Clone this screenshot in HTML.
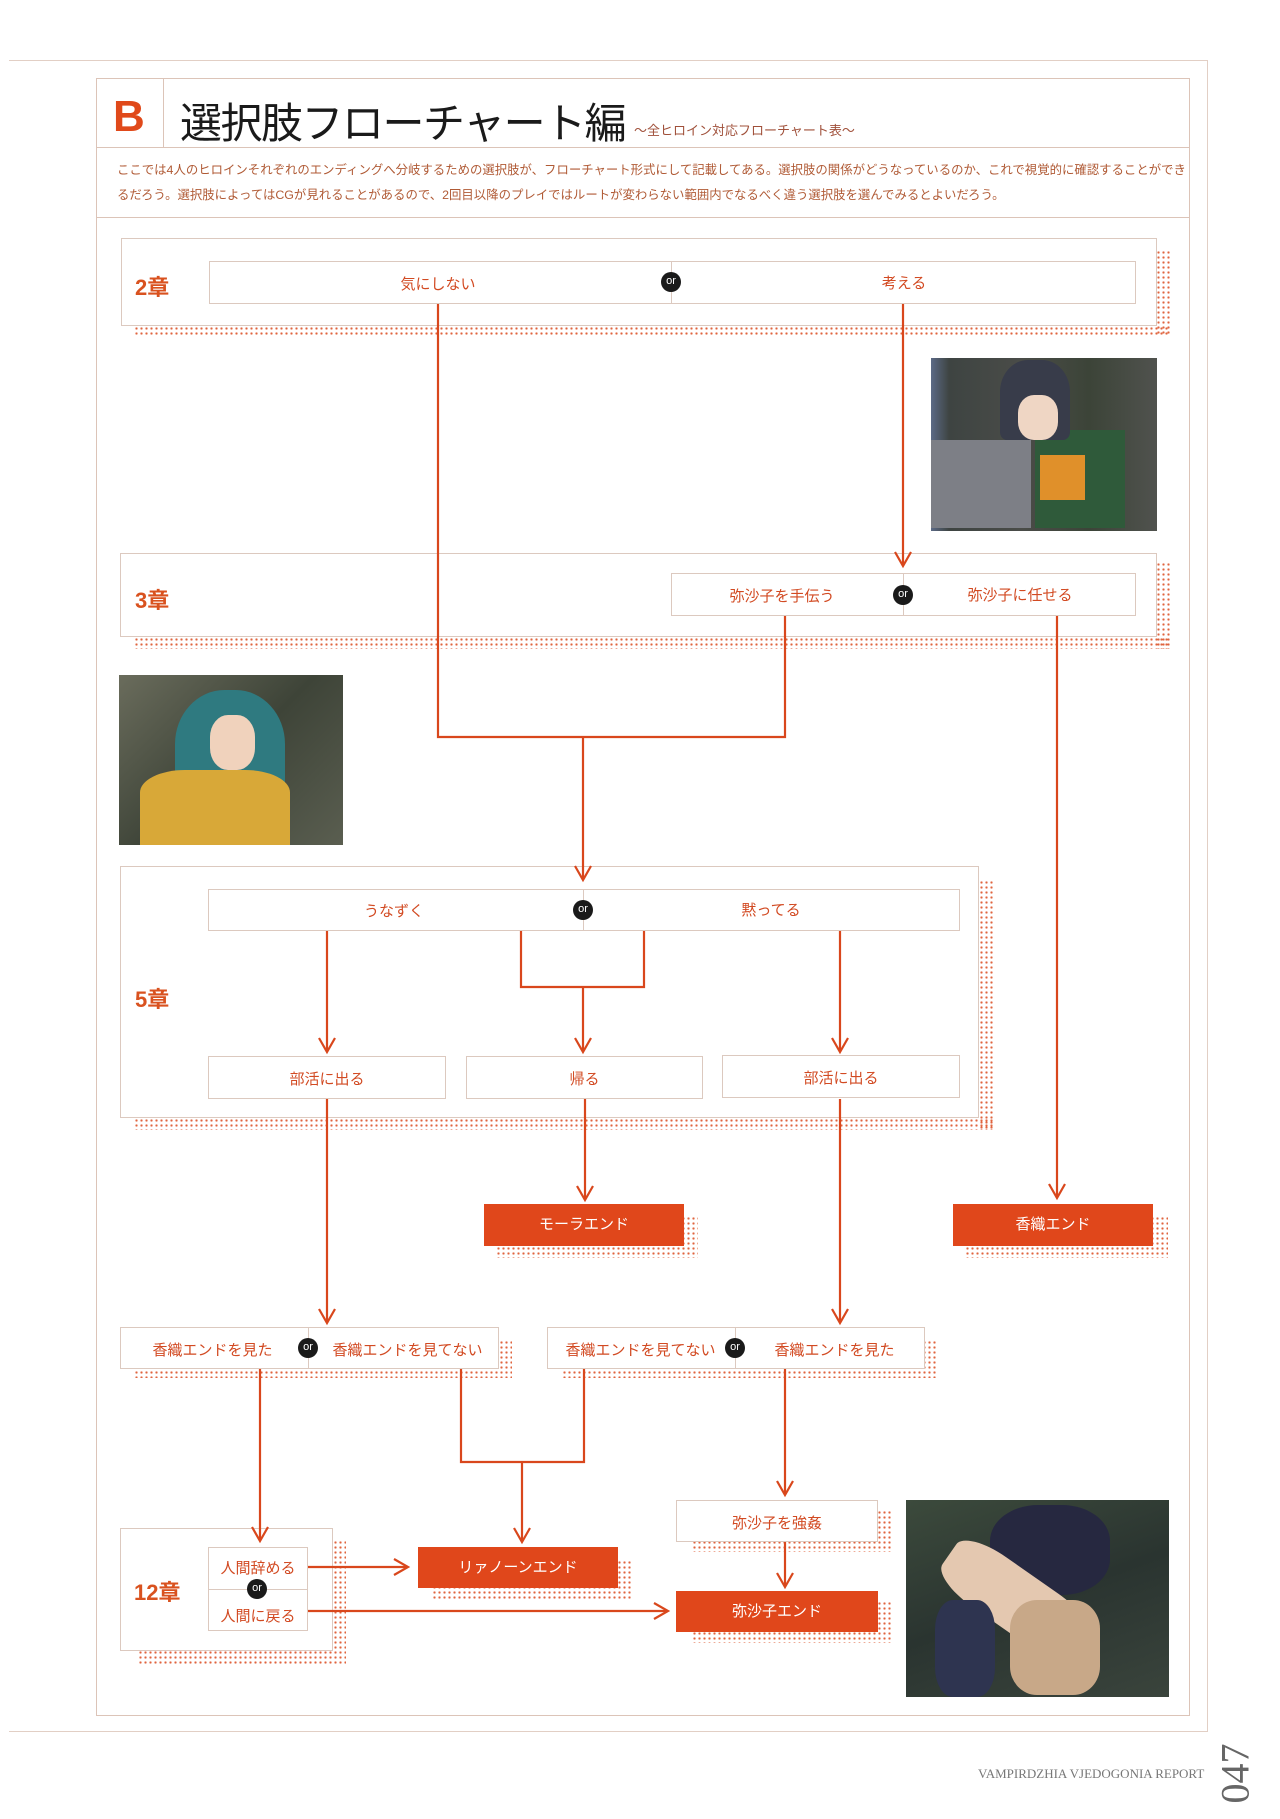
<!DOCTYPE html>
<html><head><meta charset="utf-8"><style>
*{margin:0;padding:0;box-sizing:border-box}
body{width:1280px;height:1819px;background:#fff;position:relative;overflow:hidden;font-family:"Liberation Sans","Noto Sans CJK JP",sans-serif}
.a{position:absolute}
.bx{position:absolute;background:#fff;border:1.5px solid #dcc9bf}
.sh{position:absolute;background-image:radial-gradient(circle,#e0643e 1px,transparent 1.3px);background-size:5px 5px}
.t{position:absolute;color:#d24a22;font-size:15px;text-align:center;white-space:nowrap}
.or{position:absolute;width:20px;height:20px;border-radius:50%;background:#1a1a1a;color:#fff;font-size:11px;line-height:19px;text-align:center;font-family:"Liberation Sans",sans-serif}
.end{position:absolute;background:#e0471b;color:#fff;font-size:15px;text-align:center}
.ch{position:absolute;color:#d9521f;font-size:22px;font-weight:bold}
</style></head><body>
<div class="a" style="left:9px;top:60px;width:1199px;height:1672px;border-top:1.5px solid #e2cfc5;border-right:1.5px solid #e2cfc5;border-bottom:1.5px solid #e2cfc5"></div>
<div class="a" style="left:96px;top:78px;width:1094px;height:1638px;border:1.5px solid #dcc4b8"></div>
<div class="a" style="left:96px;top:147px;width:1094px;border-top:1.5px solid #dcc4b8"></div>
<div class="a" style="left:96px;top:217px;width:1094px;border-top:1.5px solid #dcc4b8"></div>
<div class="a" style="left:163px;top:78px;height:69px;border-left:1.5px solid #dcc4b8"></div>
<div class="a" style="left:113px;top:92px;font-size:44px;font-weight:bold;color:#e0491a;font-family:'Liberation Sans',sans-serif">B</div>
<div class="a" style="left:180px;top:90px;font-size:42px;color:#1a1a1a;letter-spacing:-1.5px">選択肢フローチャート編</div>
<div class="a" style="left:634px;top:120px;font-size:13px;color:#a0503a">〜全ヒロイン対応フローチャート表〜</div>
<div class="a" style="left:117px;top:158px;width:1070px;font-size:12.4px;line-height:25px;color:#b05a35">ここでは4人のヒロインそれぞれのエンディングへ分岐するための選択肢が、フローチャート形式にして記載してある。選択肢の関係がどうなっているのか、これで視覚的に確認することができるだろう。選択肢によってはCGが見れることがあるので、2回目以降のプレイではルートが変わらない範囲内でなるべく違う選択肢を選んでみるとよいだろう。</div>

<div class="sh" style="left:134px;top:326px;width:1036px;height:10px"></div>
<div class="sh" style="left:1156px;top:250px;width:14px;height:86px"></div>
<div class="bx" style="left:121px;top:238px;width:1036px;height:88px"></div>
<div class="ch" style="left:135px;top:270px">2章</div>
<div class="bx" style="left:209px;top:261px;width:927px;height:43px"></div>
<div class="a" style="left:671px;top:261px;height:43px;border-left:1px solid #dcc9bf"></div>
<div class="t" style="left:388px;top:273px;width:100px">気にしない</div>
<div class="t" style="left:854px;top:272px;width:100px">考える</div>
<div class="or" style="left:661px;top:272px">or</div>

<div class="a" style="left:931px;top:358px;width:226px;height:173px;background:linear-gradient(90deg,#5c6a86 0%,#3e4442 8%,#4a4c48 40%,#3c4438 70%,#50524e 100%)"></div>
<div class="a" style="left:931px;top:440px;width:100px;height:88px;background:#7d7f86"></div>
<div class="a" style="left:1035px;top:430px;width:90px;height:98px;background:#2f5a3a"></div>
<div class="a" style="left:1040px;top:455px;width:45px;height:45px;background:#e0902a"></div>
<div class="a" style="left:1000px;top:360px;width:70px;height:80px;background:#383c4a;border-radius:40% 40% 10% 10%"></div>
<div class="a" style="left:1018px;top:395px;width:40px;height:45px;background:#efd6c4;border-radius:40%"></div>

<div class="sh" style="left:134px;top:637px;width:1036px;height:12px"></div>
<div class="sh" style="left:1156px;top:562px;width:14px;height:87px"></div>
<div class="bx" style="left:120px;top:553px;width:1037px;height:84px"></div>
<div class="ch" style="left:135px;top:583px">3章</div>
<div class="bx" style="left:671px;top:573px;width:465px;height:43px"></div>
<div class="a" style="left:903px;top:573px;height:43px;border-left:1px solid #dcc9bf"></div>
<div class="t" style="left:722px;top:585px;width:120px">弥沙子を手伝う</div>
<div class="t" style="left:960px;top:584px;width:120px">弥沙子に任せる</div>
<div class="or" style="left:893px;top:585px">or</div>

<div class="a" style="left:119px;top:675px;width:224px;height:170px;background:linear-gradient(135deg,#6a6c5c,#3e4438 50%,#5a5e50)"></div>
<div class="a" style="left:175px;top:690px;width:110px;height:120px;background:#2f7a80;border-radius:45% 45% 20% 20%"></div>
<div class="a" style="left:210px;top:715px;width:45px;height:55px;background:#f0d2bc;border-radius:40%"></div>
<div class="a" style="left:140px;top:770px;width:150px;height:75px;background:#d8a838;border-radius:30% 30% 0 0"></div>

<div class="sh" style="left:134px;top:1118px;width:860px;height:12px"></div>
<div class="sh" style="left:979px;top:880px;width:15px;height:250px"></div>
<div class="bx" style="left:120px;top:866px;width:859px;height:252px"></div>
<div class="ch" style="left:135px;top:982px">5章</div>
<div class="bx" style="left:208px;top:889px;width:752px;height:42px"></div>
<div class="a" style="left:583px;top:889px;height:42px;border-left:1px solid #dcc9bf"></div>
<div class="t" style="left:344px;top:900px;width:100px">うなずく</div>
<div class="t" style="left:721px;top:899px;width:100px">黙ってる</div>
<div class="or" style="left:573px;top:900px">or</div>
<div class="bx" style="left:208px;top:1056px;width:238px;height:43px"></div>
<div class="t" style="left:208px;top:1068px;width:238px">部活に出る</div>
<div class="bx" style="left:466px;top:1056px;width:237px;height:43px"></div>
<div class="t" style="left:466px;top:1068px;width:237px">帰る</div>
<div class="bx" style="left:722px;top:1055px;width:238px;height:43px"></div>
<div class="t" style="left:722px;top:1067px;width:238px">部活に出る</div>

<div class="sh" style="left:496px;top:1216px;width:202px;height:42px"></div>
<div class="end" style="left:484px;top:1204px;width:200px;height:42px;line-height:42px">モーラエンド</div>
<div class="sh" style="left:965px;top:1216px;width:203px;height:42px"></div>
<div class="end" style="left:953px;top:1204px;width:200px;height:42px;line-height:42px">香織エンド</div>

<div class="sh" style="left:134px;top:1340px;width:378px;height:38px"></div>
<div class="bx" style="left:120px;top:1327px;width:379px;height:42px"></div>
<div class="a" style="left:308px;top:1327px;height:42px;border-left:1px solid #dcc9bf"></div>
<div class="t" style="left:140px;top:1339px;width:145px">香織エンドを見た</div>
<div class="t" style="left:325px;top:1339px;width:165px">香織エンドを見てない</div>
<div class="or" style="left:298px;top:1338px">or</div>
<div class="sh" style="left:562px;top:1340px;width:376px;height:38px"></div>
<div class="bx" style="left:547px;top:1327px;width:378px;height:42px"></div>
<div class="a" style="left:735px;top:1327px;height:42px;border-left:1px solid #dcc9bf"></div>
<div class="t" style="left:558px;top:1339px;width:165px">香織エンドを見てない</div>
<div class="t" style="left:762px;top:1339px;width:145px">香織エンドを見た</div>
<div class="or" style="left:725px;top:1338px">or</div>

<div class="sh" style="left:138px;top:1540px;width:208px;height:124px"></div>
<div class="bx" style="left:120px;top:1528px;width:213px;height:123px"></div>
<div class="ch" style="left:134px;top:1575px">12章</div>
<div class="bx" style="left:208px;top:1547px;width:100px;height:84px"></div>
<div class="a" style="left:208px;top:1589px;width:100px;border-top:1px solid #dcc9bf"></div>
<div class="t" style="left:208px;top:1557px;width:100px">人間辞める</div>
<div class="t" style="left:208px;top:1605px;width:100px">人間に戻る</div>
<div class="or" style="left:247px;top:1579px">or</div>

<div class="sh" style="left:432px;top:1560px;width:200px;height:40px"></div>
<div class="end" style="left:418px;top:1547px;width:200px;height:41px;line-height:41px">リァノーンエンド</div>
<div class="sh" style="left:692px;top:1510px;width:200px;height:42px"></div>
<div class="bx" style="left:676px;top:1500px;width:202px;height:42px"></div>
<div class="t" style="left:676px;top:1512px;width:202px">弥沙子を強姦</div>
<div class="sh" style="left:692px;top:1601px;width:200px;height:42px"></div>
<div class="end" style="left:676px;top:1591px;width:202px;height:41px;line-height:41px">弥沙子エンド</div>

<div class="a" style="left:906px;top:1500px;width:263px;height:197px;background:linear-gradient(160deg,#3c4a3c,#2a3430 50%,#3a443c)"></div>
<div class="a" style="left:990px;top:1505px;width:120px;height:90px;background:#262840;border-radius:40%"></div>
<div class="a" style="left:935px;top:1570px;width:160px;height:60px;background:#e4c8b0;transform:rotate(35deg);border-radius:30%"></div>
<div class="a" style="left:1010px;top:1600px;width:90px;height:95px;background:#c8a888;border-radius:30%"></div>
<div class="a" style="left:935px;top:1600px;width:60px;height:97px;background:#2e3450;border-radius:30%"></div>

<svg class="a" style="left:0;top:0" width="1280" height="1819">
<g stroke="#d9471c" stroke-width="2.2" fill="none">
<path d="M438 304V737H785V616"/>
<path d="M903 304V566"/><path d="M895 552l8 14 8-14"/>
<path d="M583 737V880"/><path d="M575 866l8 14 8-14"/>
<path d="M1057 616V1198"/><path d="M1049 1184l8 14 8-14"/>
<path d="M327 931V1052"/><path d="M319 1038l8 14 8-14"/>
<path d="M521 931V987H644V931M583 987V1052"/><path d="M575 1038l8 14 8-14"/>
<path d="M840 931V1052"/><path d="M832 1038l8 14 8-14"/>
<path d="M585 1099V1200"/><path d="M577 1186l8 14 8-14"/>
<path d="M327 1099V1323"/><path d="M319 1309l8 14 8-14"/>
<path d="M840 1099V1323"/><path d="M832 1309l8 14 8-14"/>
<path d="M260 1369V1541"/><path d="M252 1527l8 14 8-14"/>
<path d="M461 1369V1462H584V1369M522 1462V1542"/><path d="M514 1528l8 14 8-14"/>
<path d="M785 1369V1495"/><path d="M777 1481l8 14 8-14"/>
<path d="M785 1542V1587"/><path d="M777 1573l8 14 8-14"/>
<path d="M308 1567H408"/><path d="M394 1559l14 8-14 8"/>
<path d="M308 1611H668"/><path d="M654 1603l14 8-14 8"/>
</g></svg>

<div class="a" style="left:978px;top:1766px;font-family:'Liberation Serif',serif;font-size:13px;color:#777">VAMPIRDZHIA VJEDOGONIA REPORT</div>
<div class="a" style="left:1205px;top:1750px;font-family:'Liberation Serif',serif;font-size:40px;color:#666;transform:rotate(-90deg);transform-origin:center">047</div>
</body></html>
